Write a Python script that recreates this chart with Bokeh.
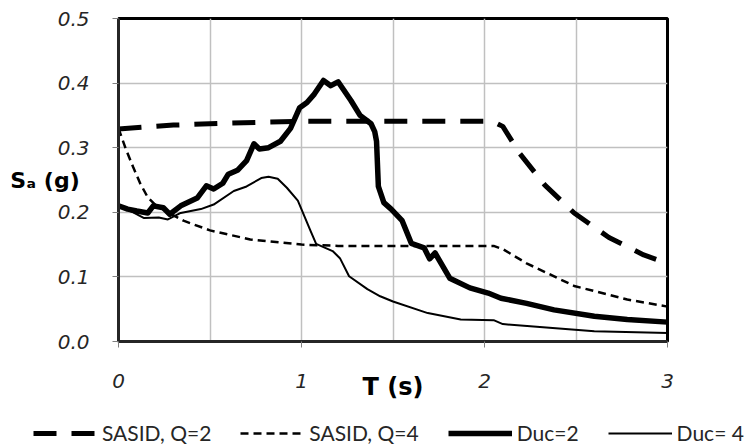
from bokeh.plotting import figure
from bokeh.models import Range1d, FixedTicker, NumeralTickFormatter, Legend, LegendItem
from bokeh.embed import file_html
from bokeh.resources import INLINE

# ---- data ----
t_q2 = [0.0, 0.15, 0.3, 0.6, 1.0, 1.5, 2.0, 2.05, 2.1, 2.19, 2.33, 2.49, 2.68, 2.87, 3.0]
sa_q2 = [0.329, 0.332, 0.335, 0.338, 0.341, 0.341, 0.341, 0.340, 0.333, 0.292, 0.242, 0.199, 0.161, 0.134, 0.121]

t_q4 = [0.0, 0.04, 0.08, 0.12, 0.16, 0.2, 0.27, 0.355, 0.5, 0.72, 1.0, 1.2, 2.05, 2.1, 2.23, 2.49, 2.78, 3.0]
sa_q4 = [0.330, 0.298, 0.270, 0.244, 0.223, 0.212, 0.200, 0.187, 0.172, 0.158, 0.150, 0.148, 0.148, 0.143, 0.121, 0.086, 0.065, 0.054]

t_d2 = [0.0, 0.05, 0.1, 0.16, 0.19, 0.245, 0.28, 0.34, 0.43, 0.48, 0.52, 0.57, 0.6, 0.65, 0.7, 0.74, 0.77,
        0.82, 0.885, 0.94, 0.99, 1.03, 1.07, 1.12, 1.16, 1.2, 1.27, 1.32, 1.38, 1.40, 1.41, 1.42, 1.45,
        1.49, 1.55, 1.6, 1.67, 1.7, 1.73, 1.81, 1.92, 2.02, 2.09, 2.23, 2.38, 2.6, 2.78, 3.0]
sa_d2 = [0.210, 0.205, 0.202, 0.199, 0.210, 0.207, 0.197, 0.210, 0.222, 0.241, 0.236, 0.245, 0.259, 0.265,
         0.280, 0.306, 0.298, 0.300, 0.310, 0.330, 0.362, 0.370, 0.383, 0.404, 0.396, 0.402, 0.373, 0.350,
         0.337, 0.325, 0.310, 0.240, 0.215, 0.205, 0.187, 0.152, 0.145, 0.128, 0.137, 0.098, 0.083, 0.075,
         0.067, 0.059, 0.049, 0.039, 0.034, 0.030]

t_d4 = [0.0, 0.08, 0.14, 0.22, 0.27, 0.34, 0.45, 0.52, 0.63, 0.7, 0.78, 0.82, 0.87, 0.92, 0.98, 1.05,
        1.08, 1.17, 1.21, 1.26, 1.36, 1.43, 1.5, 1.69, 1.87, 2.05, 2.10, 2.32, 2.6, 3.0]
sa_d4 = [0.210, 0.200, 0.191, 0.192, 0.189, 0.199, 0.205, 0.212, 0.233, 0.240, 0.253, 0.255, 0.252,
         0.238, 0.218, 0.171, 0.151, 0.140, 0.129, 0.101, 0.081, 0.070, 0.062, 0.044, 0.034, 0.033,
         0.027, 0.022, 0.016, 0.013]

x_ticks = [0, 1, 2, 3]
x_grid = [0.5, 1, 1.5, 2, 2.5]
y_ticks = [0.0, 0.1, 0.2, 0.3, 0.4, 0.5]
series_names = ["SASID, Q=2", "SASID, Q=4", "Duc=2", "Duc= 4"]
x_title = "T (s)"
y_title = "S\u2090 (g)"

styles = [dict(line_color="black", line_width=5, line_dash="23 15"),
          dict(line_color="black", line_width=2.5, line_dash="8 5"),
          dict(line_color="black", line_width=5.5, line_join="round"),
          dict(line_color="black", line_width=2, line_join="round")]
series = [(t_q2, sa_q2), (t_q4, sa_q4), (t_d2, sa_d2), (t_d4, sa_d4)]

p = figure(width=747, height=408, output_backend="svg", toolbar_location=None, title=None,
           x_range=Range1d(0, 3), y_range=Range1d(0, 0.5),
           min_border_left=118, min_border_right=80, min_border_top=18, min_border_bottom=67)

for (tx, sy), st in zip(series, styles):
    p.line(tx, sy, **st)

# axes
p.xaxis.ticker = FixedTicker(ticks=x_ticks)
p.yaxis.ticker = FixedTicker(ticks=y_ticks)
p.yaxis.formatter = NumeralTickFormatter(format="0.0")
for ax in (p.xaxis[0], p.yaxis[0]):
    ax.axis_line_color = "#262626"
    ax.axis_line_width = 3
    ax.major_tick_line_color = "#808080"
    ax.major_tick_out = 6
    ax.major_tick_in = 0
    ax.minor_tick_out = 0
    ax.minor_tick_in = 0
    ax.major_label_text_font = "DejaVu Sans"
    ax.major_label_text_font_style = "italic"
    ax.major_label_text_font_size = "20px"
    ax.major_label_text_color = "#262626"
    ax.axis_label_text_font = "DejaVu Sans"
    ax.axis_label_text_font_style = "bold"
    ax.axis_label_text_color = "black"
p.xaxis.major_label_standoff = 26
p.yaxis.major_label_standoff = 23

p.xaxis.axis_label = x_title
p.xaxis.axis_label_text_font_size = "24px"
p.xaxis.axis_label_standoff = -18
p.yaxis.axis_label = y_title
p.yaxis.axis_label_text_font_size = "22px"
p.yaxis.axis_label_orientation = "horizontal"
p.yaxis.axis_label_standoff = -25

p.xgrid.ticker = FixedTicker(ticks=x_grid)
p.ygrid.ticker = FixedTicker(ticks=y_ticks[1:-1])
p.grid.grid_line_color = "#c0c0c0"
p.grid.grid_line_width = 1.5

p.outline_line_color = "black"
p.outline_line_width = 3
p.background_fill_color = "white"

# legend strip below the chart (same series, drawn out of its visible range)
pl = figure(width=747, height=39, output_backend="svg", toolbar_location=None, title=None,
            x_range=Range1d(10, 11), y_range=Range1d(10, 11),
            min_border_left=0, min_border_right=0, min_border_top=0, min_border_bottom=0)
pl.axis.visible = False
pl.grid.visible = False
pl.outline_line_color = None
items = []
for (tx, sy), st, name in zip(series, styles, series_names):
    r = pl.line(tx, sy, **st)
    items.append(LegendItem(label=name, renderers=[r]))

legend = Legend(items=items, orientation="horizontal", location=(33, 2),
                glyph_width=64, glyph_height=20, label_standoff=5, spacing=29,
                padding=0, margin=0, border_line_color=None, background_fill_alpha=0,
                label_text_font="Lato", label_text_font_size="21px", label_text_color="#262626")
pl.add_layout(legend)

open("out.html", "w").write(file_html([p, pl], INLINE))
